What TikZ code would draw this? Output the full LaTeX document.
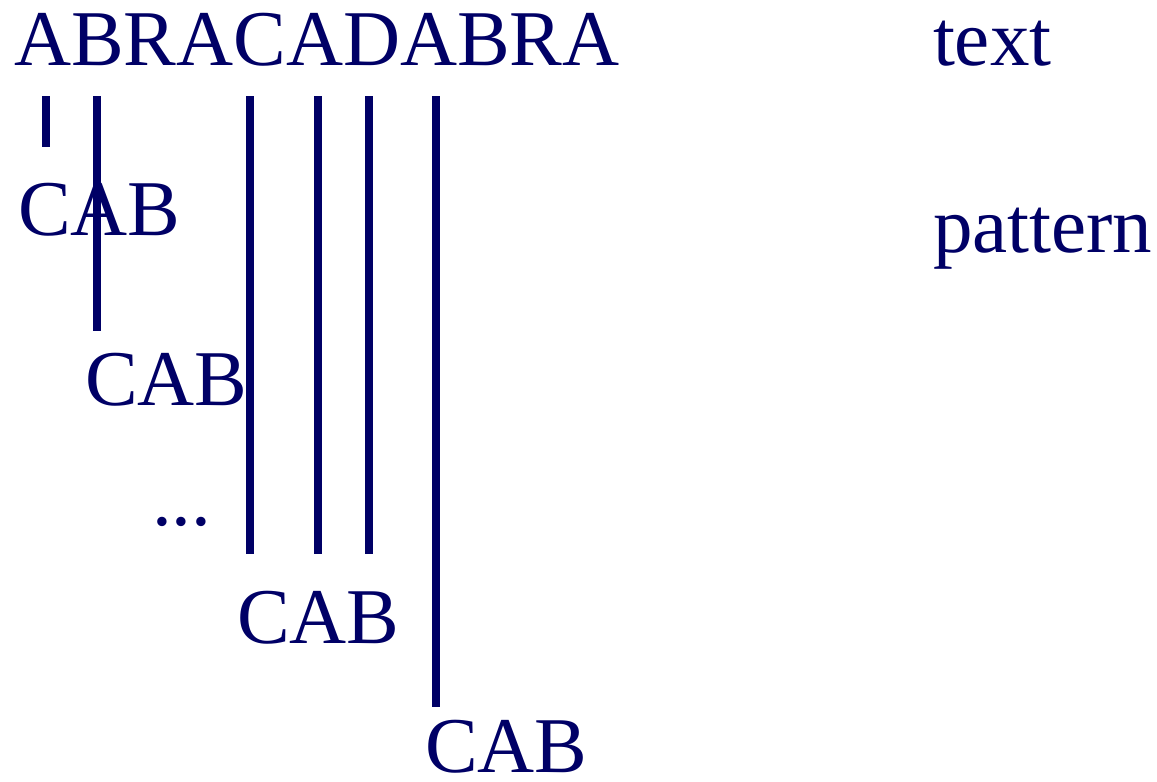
\documentclass[tikz,border=0pt]{standalone}
\usepackage{fontspec}
\setmainfont{Liberation Serif}
\definecolor{ink}{RGB}{0,0,102}
\begin{document}
\begin{tikzpicture}[x=1pt,y=-1pt,
  lbl/.style={anchor=base west,inner sep=0pt,outer sep=0pt,text=ink,
              font=\fontsize{79}{79}\selectfont},
  bar/.style={draw=ink,line width=8pt}]
\useasboundingbox (0,0) rectangle (1157,782);

% the text, the pattern and its shifted copies
\node[lbl] (txt)  at (14,65)  {ABRACADABRA};
\node[lbl] (ltxt) at (933,65) {text};
\node[lbl] (lpat) at (933,252) {pattern};
\node[lbl] (p1) at (18,235)  {CAB};
\node[lbl] (p2) at (85,405)  {CAB};
\node[lbl] (dots) at (152,525) {...};
\node[lbl] (p3) at (237,643) {CAB};
\node[lbl,text depth=0pt] (p4) at (425,772) {CAB};

% alignment bars below the text
\foreach \n/\x/\yb in {1/46/147, 2/96.5/331, 3/250/554, 4/317.5/554, 5/368.5/554, 6/436/707} {
  \coordinate (s\n) at (\x,96);
  \coordinate (e\n) at (\x,\yb);
  \draw[bar] (s\n) -- (e\n);
}
\end{tikzpicture}
\end{document}
